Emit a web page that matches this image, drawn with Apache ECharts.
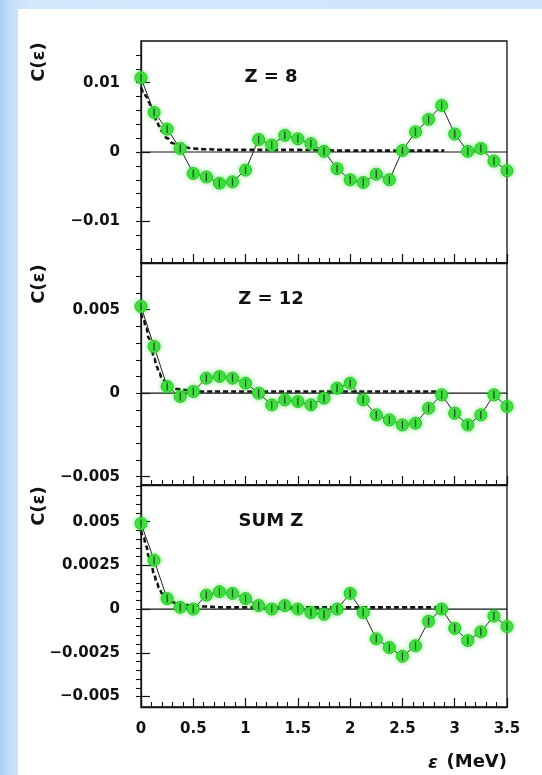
<!DOCTYPE html>
<html>
<head>
<meta charset="utf-8">
<script src="https://cdn.jsdelivr.net/npm/echarts@6/dist/echarts.min.js"></script>
<style>
html,body{margin:0;padding:0;width:542px;height:775px;overflow:hidden;}
body{background:linear-gradient(to right,#a9cff4 0px,#c4def8 10px,#d3e8fb 30px,#cfe5fa 100%);position:relative;}
#paper{position:absolute;left:18px;top:9px;width:524px;height:766px;background:#fff;}
#chart{position:absolute;left:0;top:0;width:542px;height:775px;}
</style>
</head>
<body>
<div id="paper"></div>
<div id="chart"></div>
<script>
// ---- data ----
const energy = [0,0.125,0.25,0.375,0.5,0.625,0.75,0.875,1.0,1.125,1.25,1.375,1.5,1.625,1.75,1.875,2.0,2.125,2.25,2.375,2.5,2.625,2.75,2.875,3.0,3.125,3.25,3.375,3.5];
const cZ8  = [0.0107,0.0057,0.0033,0.0005,-0.0031,-0.0036,-0.0045,-0.0043,-0.0026,0.0018,0.0010,0.0024,0.0019,0.0012,0.0001,-0.0024,-0.0040,-0.0044,-0.0032,-0.0040,0.0002,0.0029,0.0047,0.0067,0.0026,0.0001,0.0005,-0.0013,-0.0027];
const cZ12 = [0.0052,0.0028,0.0004,-0.0002,0.0001,0.0009,0.0010,0.0009,0.0006,0.0000,-0.0007,-0.0004,-0.0005,-0.0007,-0.0003,0.0003,0.0006,-0.0004,-0.0013,-0.0016,-0.0019,-0.0018,-0.0009,-0.0001,-0.0012,-0.0019,-0.0013,-0.0001,-0.0008];
const cSum = [0.0049,0.0028,0.0006,0.0001,0.0000,0.0008,0.0010,0.0009,0.0006,0.0002,0.0000,0.0002,0.0000,-0.0002,-0.0003,0.0000,0.0009,-0.0002,-0.0017,-0.0022,-0.0027,-0.0021,-0.0007,0.0000,-0.0011,-0.0018,-0.0013,-0.0004,-0.0010];

const fitE    = [0,0.025,0.05,0.075,0.1,0.125,0.15,0.175,0.2,0.25,0.3,0.35,0.4,0.5,0.6,0.8,1.0,1.5,2.0,2.5,2.9];
const fitZ8   = [0.0093,0.0087,0.0080,0.0072,0.0063,0.0054,0.0045,0.0037,0.0030,0.0020,0.0013,0.0009,0.0007,0.0005,0.0004,0.0003,0.0003,0.0003,0.0002,0.0002,0.0002];
const fitZ12  = [0.0048,0.0044,0.0039,0.0033,0.0027,0.0021,0.0016,0.0012,0.0009,0.0005,0.0003,0.00025,0.0002,0.00015,0.0001,0.0001,0.0001,0.0001,0.0001,0.0001,0.0001];
const fitSum  = [0.0045,0.0041,0.0036,0.0030,0.0025,0.0020,0.0015,0.0012,0.0009,0.0006,0.0004,0.0003,0.00025,0.0002,0.00015,0.0001,0.0001,0.0001,0.0001,0.0001,0.0001];

const zeroE = [0,3.5];
const zeroC = [0,0];

const panelTitles = ['Z = 8','Z = 12','SUM Z'];
const yRanges = [[-0.016,0.016],[-0.0055,0.0078],[-0.0056,0.0071]];
const majorZ8  = [-0.01,0,0.01];
const minorZ8  = [-0.014,-0.012,-0.01,-0.008,-0.006,-0.004,-0.002,0,0.002,0.004,0.006,0.008,0.01,0.012,0.014];
const majorZ12 = [-0.005,0,0.005];
const minorZ12 = [-0.005,-0.004,-0.003,-0.002,-0.001,0,0.001,0.002,0.003,0.004,0.005,0.006,0.007];
const majorSum = [-0.005,-0.0025,0,0.0025,0.005];
const minorSum = [-0.005,-0.0045,-0.004,-0.0035,-0.003,-0.0025,-0.002,-0.0015,-0.001,-0.0005,0,0.0005,0.001,0.0015,0.002,0.0025,0.003,0.0035,0.004,0.0045,0.005,0.0055,0.006,0.0065,0.007];
const xTicks = [0,0.5,1,1.5,2,2.5,3,3.5];

const panels = [
  {c: cZ8,  fit: fitZ8,  major: majorZ8,  minor: minorZ8},
  {c: cZ12, fit: fitZ12, major: majorZ12, minor: minorZ12},
  {c: cSum, fit: fitSum, major: majorSum, minor: minorSum}
];

// ---- layout ----
const FONT = 'DejaVu Sans';
const gridTop = [41, 263, 485];
const gridH = 222;

const chart = echarts.init(document.getElementById('chart'), null, {renderer:'canvas'});

const grids = [], xAxes = [], yAxes = [], series = [], graphics = [];

function fmtY(v){
  if (Math.abs(v) < 1e-12) return '0';
  const s = String(+Math.abs(v).toPrecision(6));
  return (v < 0 ? '\u2212' : '') + s;
}

panels.forEach((p, i) => {
  grids.push({left:141, right:35, top:gridTop[i], height:gridH, show:true,
    backgroundColor:'transparent', borderColor:'#111', borderWidth:1.3});
  xAxes.push({type:'value', gridIndex:i, min:0, max:3.5, interval:0.5,
    axisLine:{show:true, onZero:false, lineStyle:{color:'#111', width:1.3}},
    axisTick:{show:true, inside:true, length:9, lineStyle:{color:'#111', width:1.2}},
    minorTick:{show:true, splitNumber:5, length:5, lineStyle:{color:'#111', width:1.1}},
    splitLine:{show:false},
    axisLabel:{show: i===2, margin:15, color:'#111', fontFamily:FONT, fontWeight:'bold', fontSize:15,
      customValues: xTicks,
      formatter: v => String(v)}
  });
  yAxes.push({type:'value', gridIndex:i, min:yRanges[i][0], max:yRanges[i][1],
    axisLine:{show:true, onZero:false, lineStyle:{color:'#111', width:1.3}},
    axisTick:{show:true, inside:true, length:9, customValues:p.major, lineStyle:{color:'#111', width:1.2}},
    splitLine:{show:false},
    axisLabel:{show:true, margin:21, customValues:p.major, color:'#111', fontFamily:FONT, fontWeight:'bold', fontSize:15,
      formatter: fmtY}
  });
  yAxes.push({type:'value', gridIndex:i, min:yRanges[i][0], max:yRanges[i][1],
    axisLine:{show:false},
    axisTick:{show:true, inside:true, length:5, customValues:p.minor, lineStyle:{color:'#111', width:1.1}},
    splitLine:{show:false},
    axisLabel:{show:false}
  });
  const yMain = i*2;
  series.push({type:'line', xAxisIndex:i, yAxisIndex:yMain, data: zeroE.map((e,k)=>[e, zeroC[k]]),
    symbol:'none', lineStyle:{color:'#111', width:1.2}, silent:true, z:1});
  series.push({type:'line', xAxisIndex:i, yAxisIndex:yMain, data: fitE.map((e,k)=>[e, p.fit[k]]),
    symbol:'none', smooth:true, smoothMonotone:'x', lineStyle:{color:'#111', width:2.6, type:[5,3]}, silent:true, z:2});
  series.push({type:'line', xAxisIndex:i, yAxisIndex:yMain, data: energy.map((e,k)=>[e, p.c[k]]),
    symbol:'circle', symbolSize:12, showAllSymbol:true, clip:true,
    lineStyle:{color:'#222', width:1},
    itemStyle:{color:'#3fe23f', borderColor:'#26c426', borderWidth:1, shadowBlur:5, shadowColor:'rgba(40,220,40,0.55)'},
    z:3});
  series.push({type:'scatter', xAxisIndex:i, yAxisIndex:yMain, data: energy.map((e,k)=>[e, p.c[k]]),
    symbol:'rect', symbolSize:[1.3,8], itemStyle:{color:'#222'}, silent:true, z:4});

  graphics.push({type:'text', x:271, y:gridTop[i]+36, style:{text:panelTitles[i], fill:'#111',
    font:'bold 18px "DejaVu Sans"', textAlign:'center', textVerticalAlign:'middle'}});
  graphics.push({type:'text', x:39, y:gridTop[i]+21, rotation:Math.PI/2, style:{text:'C(\u03b5)', fill:'#111',
    font:'bold 18px "DejaVu Sans"', textAlign:'center', textVerticalAlign:'middle'}});
});

graphics.push({type:'group', children:[
  {type:'text', x:507, y:762, style:{text:'(MeV)', fill:'#111', font:'bold 18px "DejaVu Sans"', textAlign:'right', textVerticalAlign:'middle'}},
  {type:'text', x:433, y:763, style:{text:'\u03b5', fill:'#111', font:'italic bold 18px "DejaVu Sans"', textAlign:'center', textVerticalAlign:'middle'}}
]});

chart.setOption({
  animation:false,
  backgroundColor:'transparent',
  grid:grids, xAxis:xAxes, yAxis:yAxes, series:series, graphic:graphics
});
</script>
</body>
</html>
